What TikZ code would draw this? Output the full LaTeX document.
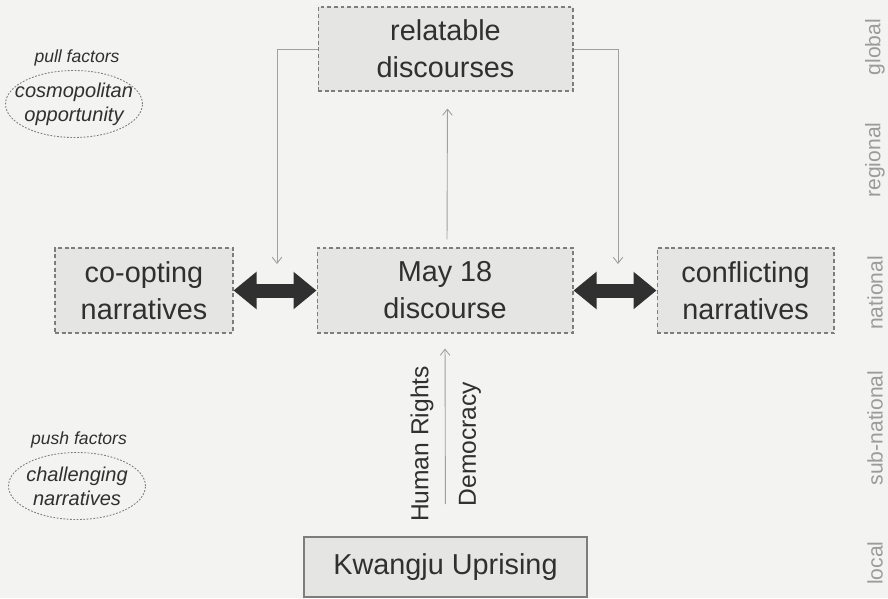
\documentclass[tikz,border=0pt]{standalone}
\usepackage{fontspec}
\setmainfont{Liberation Sans}
\usetikzlibrary{arrows.meta,shapes.geometric}
\definecolor{scanbg}{RGB}{243,243,241}
\definecolor{boxgray}{RGB}{229,229,228}
\definecolor{edgegray}{RGB}{125,125,125}
\definecolor{inkgray}{RGB}{48,48,48}
\definecolor{linkgray}{RGB}{160,160,160}
\definecolor{scalegray}{RGB}{155,155,155}

\tikzset{
  discbox/.style={draw=edgegray,fill=boxgray,dash pattern=on 2.2pt off 1.6pt,
        line width=0.6pt,align=center,text=inkgray,inner sep=0pt,
        font=\fontsize{16.4}{21}\selectfont},
  factor/.style={ellipse,draw=edgegray,dash pattern=on 1pt off 0.9pt,line width=0.5pt,
        minimum width=2.74cm,minimum height=1.34cm,inner sep=0pt},
  factortext/.style={align=center,text=inkgray,inner sep=0pt,
        font=\fontsize{11.4}{13.6}\selectfont\itshape},
  factorhead/.style={text=inkgray,font=\fontsize{10}{12}\selectfont\itshape},
  value/.style={rotate=90,text=inkgray,font=\fontsize{14}{16}\selectfont},
  level/.style={rotate=90,text=scalegray,font=\fontsize{12}{14}\selectfont},
  strain/.style={{Triangle[width=0.72cm,length=0.46cm]}-{Triangle[width=0.72cm,length=0.46cm]},
        line width=0.28cm,inkgray},
  link/.style={-{Straight Barb[length=3.5pt,width=5.5pt]},line width=0.5pt,linkgray}
}

\begin{document}
\begin{tikzpicture}[x=0.02cm,y=-0.02cm]
  %% scanned page background
  \fill[scanbg] (0,0) rectangle (888,598);
  \useasboundingbox (0,0) rectangle (888,598);

  %% discourse boxes
  \node[discbox,minimum width=5.1cm,minimum height=1.68cm]
        (rel) at (445.5,49) {relatable\\discourses};
  \node[discbox,minimum width=3.56cm,minimum height=1.7cm]
        (coopt) at (144,290.5) {co-opting\\narratives};
  \node[discbox,minimum width=5.12cm,minimum height=1.7cm]
        (may) at (445,290.5) {May 18\\discourse};
  \node[discbox,minimum width=3.54cm,minimum height=1.7cm]
        (confl) at (745.5,290.5) {conflicting\\narratives};
  \node[discbox,solid,line width=0.9pt,minimum width=5.66cm,minimum height=1.2cm]
        (kwangju) at (445.5,567) {Kwangju Uprising};

  %% pull and push factors
  \node[factorhead] (pullhead) at (77,58) {pull factors};
  \node[factor,label={[factortext]center:cosmopolitan\\opportunity}] (pull) at (74,104) {};
  \node[factorhead] (pushhead) at (79,440) {push factors};
  \node[factor,label={[factortext]center:challenging\\narratives}] (push) at (77,486) {};

  %% strains between narratives
  \draw[strain] (coopt.east) -- (may.west);
  \draw[strain] (may.east) -- (confl.west);

  %% links from relatable discourses
  \coordinate (lgap) at (277,264);
  \coordinate (rgap) at (618,264);
  \draw[link] (rel.west) -| (lgap);
  \draw[link] (rel.east) -| (rgap);
  \draw[link,shorten <=0.16cm,shorten >=0.34cm] ([xshift=0.04cm]may.north) -- ([xshift=0.04cm]rel.south);
  \draw[link,shorten <=0.64cm,shorten >=0.3cm] (kwangju.north) -- (may.south);

  %% values carried upwards
  \node[value] (hr) at (422,444) {Human Rights};
  \node[value] (dem) at (470,444) {Democracy};

  %% scale of levels
  \node[level] (global) at (875,47) {global};
  \node[level] (regional) at (875,160) {regional};
  \node[level] (national) at (875,293) {national};
  \node[level] (subnat) at (875,428) {sub-national};
  \node[level] (local) at (875,563) {local};
\end{tikzpicture}
\end{document}
